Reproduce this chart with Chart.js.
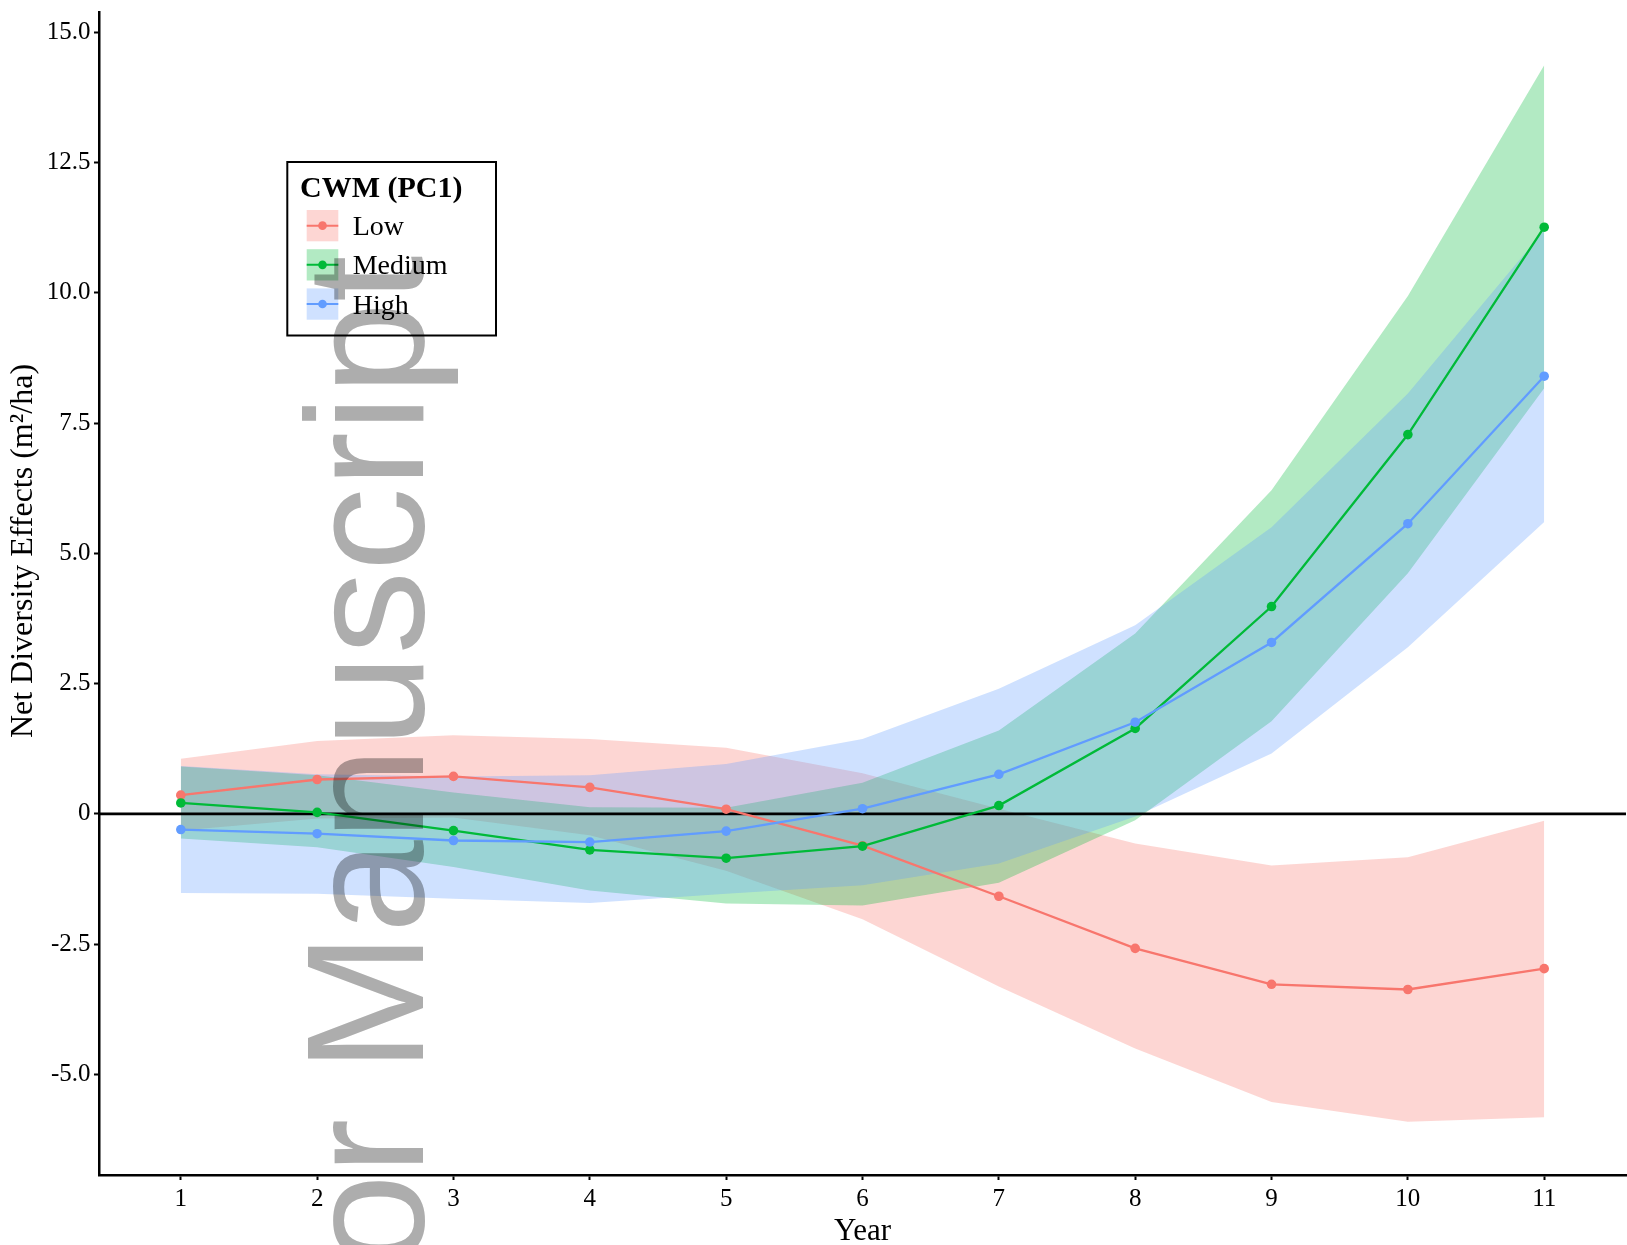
<!DOCTYPE html>
<html><head><meta charset="utf-8">
<script src="https://cdn.jsdelivr.net/npm/chart.js@4.4.1/dist/chart.umd.min.js"></script>
<style>
html,body{margin:0;padding:0;background:#fff;overflow:hidden;}
#wrap{position:relative;width:1627px;height:1245px;}
</style></head><body>
<div id="wrap"><canvas id="c"></canvas></div>
<script>
const years = [1,2,3,4,5,6,7,8,9,10,11];
const seriesNames = ['Low','Medium','High'];
const legendTitle = 'CWM (PC1)';
const xAxisTitle = 'Year';
const yAxisTitle = 'Net Diversity Effects (m\u00B2/ha)';
const watermarkText = 'Author Manuscript';

const lowMean  = [0.36, 0.66, 0.72, 0.51, 0.09, -0.61, -1.58, -2.58, -3.27, -3.37, -2.97];
const lowUpper = [1.06, 1.40, 1.51, 1.44, 1.27, 0.78, 0.10, -0.57, -0.99, -0.83, -0.13];
const lowLower = [-0.32, -0.09, -0.07, -0.41, -1.09, -2.02, -3.31, -4.50, -5.53, -5.91, -5.82];

const mediumMean  = [0.21, 0.03, -0.32, -0.69, -0.85, -0.62, 0.16, 1.64, 3.98, 7.28, 11.26];
const mediumUpper = [0.91, 0.74, 0.41, 0.13, 0.12, 0.60, 1.60, 3.46, 6.21, 9.94, 14.37];
const mediumLower = [-0.47, -0.64, -1.02, -1.47, -1.72, -1.76, -1.32, -0.12, 1.78, 4.62, 8.17];

const highMean  = [-0.30, -0.38, -0.51, -0.54, -0.33, 0.10, 0.76, 1.76, 3.29, 5.57, 8.40];
const highUpper = [0.92, 0.76, 0.72, 0.74, 0.96, 1.44, 2.40, 3.62, 5.50, 8.07, 11.20];
const highLower = [-1.52, -1.53, -1.63, -1.71, -1.53, -1.37, -0.95, -0.05, 1.16, 3.20, 5.60];

const referenceValue = 0;
const xTickValues = [1,2,3,4,5,6,7,8,9,10,11];
const xTickLabels = ['1','2','3','4','5','6','7','8','9','10','11'];
const yTickValues = [-5, -2.5, 0, 2.5, 5, 7.5, 10, 12.5, 15];
const yTickLabels = ['-5.0','-2.5','0','2.5','5.0','7.5','10.0','12.5','15.0'];

const X_MIN = 0.4, X_MAX = 11.6, Y_MIN = -6.93, Y_MAX = 15.39;
const lineColors = ['#F8766D', '#00BA38', '#619CFF'];
const bandColors = ['rgba(248,118,109,0.3)', 'rgba(0,186,56,0.3)', 'rgba(97,156,255,0.3)'];
const SERIF = '"Liberation Serif", "Times New Roman", serif';

const means = [lowMean, mediumMean, highMean];
const uppers = [lowUpper, mediumUpper, highUpper];
const lowers = [lowLower, mediumLower, highLower];
const pts = arr => years.map((x, i) => ({x: x, y: arr[i]}));

const datasets = [];
for (let s = 0; s < 3; s++) {
  datasets.push({label: seriesNames[s] + ' upper', data: pts(uppers[s]), fill: '+1',
    backgroundColor: bandColors[s], borderColor: 'rgba(0,0,0,0)', borderWidth: 0,
    pointRadius: 0, order: 9 - s, tension: 0});
  datasets.push({label: seriesNames[s] + ' lower', data: pts(lowers[s]), fill: false,
    borderColor: 'rgba(0,0,0,0)', borderWidth: 0, pointRadius: 0, order: 9 - s, tension: 0});
}
datasets.push({label: 'zero', data: [{x: X_MIN, y: referenceValue}, {x: X_MAX, y: referenceValue}],
  borderColor: '#000', borderWidth: 2.7, pointRadius: 0, fill: false, order: 4});
for (let s = 0; s < 3; s++) {
  datasets.push({label: seriesNames[s], data: pts(means[s]), fill: false,
    borderColor: lineColors[s], borderWidth: 2.3, pointRadius: 4.8, pointBorderWidth: 0,
    pointBackgroundColor: lineColors[s], order: 3 - s, tension: 0});
}

const overlay = {
  id: 'overlay',
  afterDraw(chart) {
    const ctx = chart.ctx;
    // y axis title
    ctx.save();
    ctx.translate(23.3, 551);
    ctx.rotate(-Math.PI / 2);
    ctx.font = '32px ' + SERIF;
    ctx.fillStyle = '#000';
    ctx.textAlign = 'center';
    ctx.textBaseline = 'middle';
    ctx.fillText(yAxisTitle, 0, 0);
    ctx.restore();

    // legend
    ctx.save();
    const bx = 287.3, by = 162, bw = 208.7, bh = 173.5;
    ctx.fillStyle = '#fff';
    ctx.fillRect(bx, by, bw, bh);
    ctx.lineWidth = 2;
    ctx.strokeStyle = '#000';
    ctx.strokeRect(bx, by, bw, bh);
    ctx.fillStyle = '#000';
    ctx.font = 'bold 30px ' + SERIF;
    ctx.textAlign = 'left';
    ctx.textBaseline = 'alphabetic';
    ctx.fillText(legendTitle, 300, 196.7);
    for (let s = 0; s < 3; s++) {
      const ky = 210 + s * 39.2, kx = 306.7, kw = 31.6, kh = 31.3;
      const cy = ky + kh / 2;
      ctx.fillStyle = bandColors[s];
      ctx.fillRect(kx, ky, kw, kh);
      ctx.strokeStyle = lineColors[s];
      ctx.lineWidth = 2;
      ctx.beginPath();
      ctx.moveTo(kx, cy);
      ctx.lineTo(kx + kw, cy);
      ctx.stroke();
      ctx.fillStyle = lineColors[s];
      ctx.beginPath();
      ctx.arc(kx + kw / 2, cy, 4.3, 0, Math.PI * 2);
      ctx.fill();
      ctx.fillStyle = '#000';
      ctx.font = '28px ' + SERIF;
      ctx.fillText(seriesNames[s], 352.7, cy + 9.6);
    }
    ctx.restore();

    // watermark
    ctx.save();
    ctx.globalCompositeOperation = 'multiply';
    ctx.translate(423.3, 255.5);
    ctx.rotate(-Math.PI / 2);
    ctx.font = '167px "Liberation Sans", Arial, sans-serif';
    ctx.fillStyle = '#adadad';
    ctx.textAlign = 'right';
    ctx.textBaseline = 'alphabetic';
    ctx.fillText(watermarkText, 0, 0);
    ctx.restore();
  }
};

new Chart(document.getElementById('c'), {
  type: 'line',
  data: {datasets: datasets},
  plugins: [overlay],
  options: {
    responsive: true,
    maintainAspectRatio: false,
    animation: false,
    layout: {autoPadding: false, padding: {top: 12, right: 1, bottom: 0, left: 0}},
    plugins: {legend: {display: false}, tooltip: {enabled: false}},
    scales: {
      x: {
        type: 'linear', min: X_MIN, max: X_MAX,
        afterBuildTicks: s => { s.ticks = xTickValues.map(v => ({value: v})); },
        afterFit: s => { s.height = 70; s.paddingLeft = 0; s.paddingRight = 0; },
        ticks: {
          callback: v => xTickLabels[xTickValues.indexOf(v)],
          font: {family: SERIF, size: 25}, color: '#000', padding: 4.5,
          maxRotation: 0, autoSkip: false
        },
        grid: {drawOnChartArea: false, drawTicks: true, tickLength: 5, tickColor: '#000', tickWidth: 2},
        border: {display: true, color: '#000', width: 2.5},
        title: {display: true, text: xAxisTitle, color: '#000', padding: 0,
          font: {family: SERIF, size: 31, lineHeight: 0.88}}
      },
      y: {
        type: 'linear', min: Y_MIN, max: Y_MAX,
        afterBuildTicks: s => { s.ticks = yTickValues.map(v => ({value: v})); },
        afterFit: s => { s.width = 99; s.paddingTop = 0; s.paddingBottom = 0; },
        ticks: {
          callback: v => yTickLabels[yTickValues.indexOf(v)],
          font: {family: SERIF, size: 25}, color: '#000', padding: 3.5
        },
        grid: {drawOnChartArea: false, drawTicks: true, tickLength: 5, tickColor: '#000', tickWidth: 2},
        border: {display: true, color: '#000', width: 2.5}
      }
    }
  }
});
</script>
</body></html>
